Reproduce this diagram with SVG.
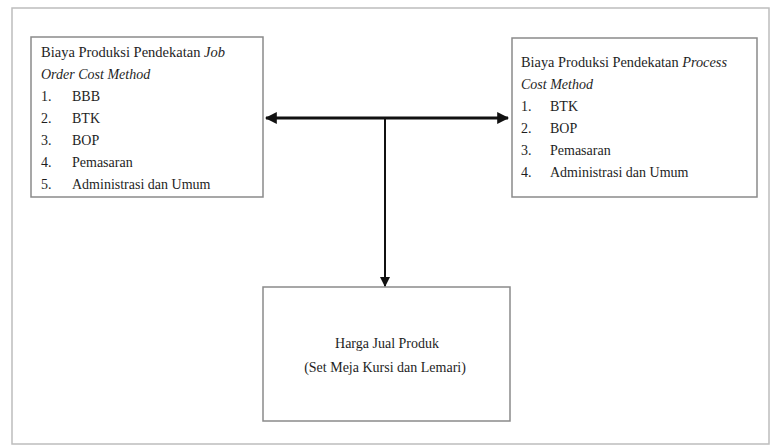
<svg xmlns="http://www.w3.org/2000/svg" width="772" height="446" viewBox="0 0 772 446">
<style>
.box{fill:#fff;stroke:#8a8a8a;stroke-width:1.5}
.t{font-family:"Liberation Serif","Times New Roman",serif;font-size:14px;fill:#1e1e1e}
.i{font-style:italic}
.c{text-anchor:middle}
.ln{stroke:#111;fill:none}
</style>
<defs>
<marker id="ah" viewBox="0 0 10 10" refX="9" refY="5" markerWidth="4" markerHeight="4" orient="auto-start-reverse" markerUnits="strokeWidth">
<path d="M0,0 L10,5 L0,10 z" fill="#111"/>
</marker>
<marker id="ah2" viewBox="0 0 10 10" refX="9" refY="5" markerWidth="5" markerHeight="5" orient="auto" markerUnits="strokeWidth">
<path d="M0,0 L10,5 L0,10 z" fill="#111"/>
</marker>
</defs>
<rect x="0" y="0" width="772" height="446" fill="#fff"/>
<rect x="12" y="8" width="757" height="436" fill="none" stroke="#bdbdbd" stroke-width="1.5"/>
<g id="job-order">
<rect class="box" x="31" y="37" width="232" height="160"/>
<text class="t" x="41" y="57" textLength="184" lengthAdjust="spacingAndGlyphs">Biaya Produksi Pendekatan <tspan class="i">Job</tspan></text>
<text class="t i" x="41" y="79">Order Cost Method</text>
<text class="t" x="41" y="101">1.</text><text class="t" x="72" y="101">BBB</text>
<text class="t" x="41" y="123">2.</text><text class="t" x="72" y="123">BTK</text>
<text class="t" x="41" y="145">3.</text><text class="t" x="72" y="145">BOP</text>
<text class="t" x="41" y="167">4.</text><text class="t" x="72" y="167">Pemasaran</text>
<text class="t" x="41" y="189">5.</text><text class="t" x="72" y="189">Administrasi dan Umum</text>
</g>
<g id="process">
<rect class="box" x="512" y="38" width="245" height="159"/>
<text class="t" x="521" y="67" textLength="206" lengthAdjust="spacingAndGlyphs">Biaya Produksi Pendekatan <tspan class="i">Process</tspan></text>
<text class="t i" x="521" y="89">Cost Method</text>
<text class="t" x="521" y="111">1.</text><text class="t" x="550" y="111">BTK</text>
<text class="t" x="521" y="133">2.</text><text class="t" x="550" y="133">BOP</text>
<text class="t" x="521" y="155">3.</text><text class="t" x="550" y="155">Pemasaran</text>
<text class="t" x="521" y="177">4.</text><text class="t" x="550" y="177">Administrasi dan Umum</text>
</g>
<g id="harga-jual">
<rect class="box" x="263" y="287" width="247" height="134"/>
<text class="t c" x="387" y="348">Harga Jual Produk</text>
<text class="t c" x="385" y="372">(Set Meja Kursi dan Lemari)</text>
</g>
<g id="connectors">
<line class="ln" x1="266" y1="118" x2="508" y2="118" stroke-width="3" marker-start="url(#ah)" marker-end="url(#ah)"/>
<line class="ln" x1="385" y1="118" x2="385" y2="286" stroke-width="2" marker-end="url(#ah2)"/>
</g>
</svg>
